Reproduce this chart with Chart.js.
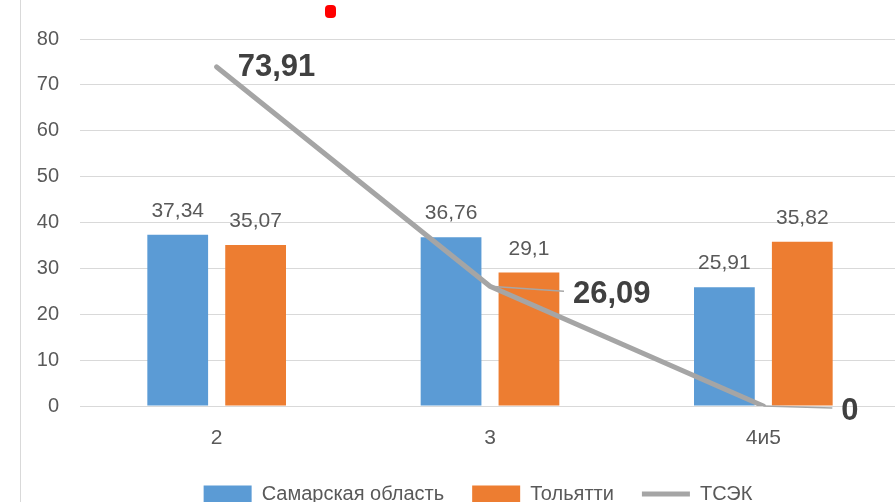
<!DOCTYPE html>
<html>
<head>
<meta charset="utf-8">
<script src="https://cdn.jsdelivr.net/npm/chart.js@4"></script>
<style>
    html, body { margin: 0; padding: 0; overflow: hidden; background: #fff; width: 895px; height: 502px; }
    canvas { display: block; }
</style>
</head>
<body>
<canvas id="chart" width="900" height="514"></canvas>
<script>
const categories = ['2', '3', '4и5'];
const samaraValues = [37.34, 36.76, 25.91];
const togliattiValues = [35.07, 29.1, 35.82];
const tsekValues = [73.91, 26.09, 0];
const yTicks = [0, 10, 20, 30, 40, 50, 60, 70, 80];

const FONT = "'Liberation Sans', Arial, sans-serif";
const fmt = v => String(v).replace('.', ',');

// сдвиг подписей линии ТСЭК (подписи перетащены вручную, с выносками)
const tsekLabelShift = [
    {dx: 21, dy: 0, leader: false},
    {dx: 83, dy: 7, leader: true},
    {dx: 78, dy: 4, leader: true}
];

const labelsPlugin = {
    id: 'valueLabels',
    afterLayout: chart => {
        // легенда в оригинале смещена вправо относительно центра холста
        chart.legend.left += 28;
        chart.legend.right += 28;
    },
    beforeDraw: chart => {
        const {ctx} = chart;
        ctx.save();
        // рамка диаграммы слева
        ctx.strokeStyle = '#d9d9d9';
        ctx.lineWidth = 1;
        ctx.beginPath();
        ctx.moveTo(20.5, 0);
        ctx.lineTo(20.5, chart.height);
        ctx.stroke();
        // красная метка сверху
        ctx.fillStyle = '#ff0000';
        ctx.beginPath();
        ctx.roundRect(325, 5, 11, 13, 4);
        ctx.fill();
        ctx.restore();
    },
    afterDatasetsDraw: chart => {
        const {ctx} = chart;
        ctx.save();
        ctx.font = '21px ' + FONT;
        ctx.fillStyle = '#595959';
        ctx.textAlign = 'center';
        ctx.textBaseline = 'alphabetic';
        [0, 1].forEach(di => {
            chart.getDatasetMeta(di).data.forEach((bar, i) => {
                ctx.fillText(fmt(chart.data.datasets[di].data[i]), bar.x, bar.y - 18);
            });
        });

        ctx.font = 'bold 31px ' + FONT;
        ctx.fillStyle = '#404040';
        ctx.textAlign = 'left';
        ctx.textBaseline = 'middle';
        chart.getDatasetMeta(2).data.forEach((pt, i) => {
            const s = tsekLabelShift[i];
            const tx = pt.x + s.dx;
            const ty = pt.y + s.dy;
            if (s.leader) {
                ctx.strokeStyle = '#a6a6a6';
                ctx.lineWidth = 1.5;
                ctx.beginPath();
                ctx.moveTo(pt.x, pt.y);
                ctx.lineTo(tx - 9, ty - 2);
                ctx.stroke();
            }
            ctx.fillText(fmt(tsekValues[i]), tx, ty + 1);
        });
        ctx.restore();
    }
};

new Chart(document.getElementById('chart'), {
    type: 'bar',
    data: {
        labels: categories,
        datasets: [
            {
                label: 'Самарская область',
                data: samaraValues,
                backgroundColor: '#5b9bd5',
                borderWidth: 0,
                categoryPercentage: 0.57,
                barPercentage: 0.78,
                order: 1
            },
            {
                label: 'Тольятти',
                data: togliattiValues,
                backgroundColor: '#ed7d31',
                borderWidth: 0,
                categoryPercentage: 0.57,
                barPercentage: 0.78,
                order: 1
            },
            {
                type: 'line',
                label: 'ТСЭК',
                data: tsekValues,
                borderColor: '#a5a5a5',
                backgroundColor: '#a5a5a5',
                borderWidth: 5,
                borderCapStyle: 'round',
                pointRadius: 0,
                tension: 0,
                order: 0
            }
        ]
    },
    options: {
        responsive: false,
        animation: false,
        layout: {
            padding: {left: 0, right: 0, top: 39, bottom: 0}
        },
        scales: {
            x: {
                grid: {display: false, drawTicks: false},
                border: {display: false},
                ticks: {
                    color: '#595959',
                    font: {family: FONT, size: 21},
                    padding: 20
                },
                afterFit: scale => { scale.height = 50; }
            },
            y: {
                min: 0,
                max: 80,
                grid: {color: '#d9d9d9', lineWidth: 1, drawTicks: false},
                border: {display: false},
                ticks: {
                    color: '#595959',
                    font: {family: FONT, size: 20},
                    padding: 21
                },
                afterBuildTicks: scale => { scale.ticks = yTicks.map(v => ({value: v})); },
                afterFit: scale => { scale.width = 80; }
            }
        },
        plugins: {
            legend: {
                position: 'bottom',
                labels: {
                    usePointStyle: true,
                    pointStyleWidth: 48,
                    boxHeight: 17,
                    padding: 28,
                    color: '#595959',
                    font: {family: FONT, size: 20},
                    generateLabels: chart => chart.data.datasets.map((ds, i) => ({
                        text: ds.label,
                        fillStyle: ds.backgroundColor,
                        strokeStyle: ds.borderColor || ds.backgroundColor,
                        lineWidth: ds.type === 'line' ? 5 : 0,
                        pointStyle: ds.type === 'line' ? 'line' : 'rect',
                        fontColor: '#595959',
                        hidden: false,
                        datasetIndex: i
                    }))
                }
            },
            tooltip: {enabled: false}
        }
    },
    plugins: [labelsPlugin]
});
</script>
</body>
</html>
